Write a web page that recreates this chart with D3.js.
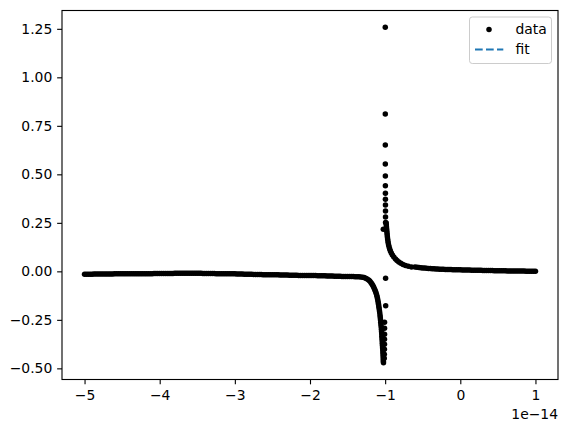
<!DOCTYPE html>
<html>
<head>
<meta charset="utf-8">
<script src="https://cdn.jsdelivr.net/npm/d3@7"></script>
<style>
body { margin: 0; background: #fff; }
text { font-family: "DejaVu Sans", sans-serif; }
</style>
</head>
<body>
<div id="chart-area"></div>
<script>
// x values are in units of 1e-14
var flatLeftX = [
  -5.000,-4.975,-4.950,-4.925,-4.900,-4.875,-4.850,-4.825,-4.800,-4.775,
  -4.750,-4.725,-4.700,-4.675,-4.650,-4.625,-4.600,-4.575,-4.550,-4.525,
  -4.500,-4.475,-4.450,-4.425,-4.400,-4.375,-4.350,-4.325,-4.300,-4.275,
  -4.250,-4.225,-4.200,-4.175,-4.150,-4.125,-4.100,-4.075,-4.050,-4.025,
  -4.000,-3.975,-3.950,-3.925,-3.900,-3.875,-3.850,-3.825,-3.800,-3.775,
  -3.750,-3.725,-3.700,-3.675,-3.650,-3.625,-3.600,-3.575,-3.550,-3.525,
  -3.500,-3.475,-3.450,-3.425,-3.400,-3.375,-3.350,-3.325,-3.300,-3.275,
  -3.250,-3.225,-3.200,-3.175,-3.150,-3.125,-3.100,-3.075,-3.050,-3.025,
  -3.000,-2.975,-2.950,-2.925,-2.900,-2.875,-2.850,-2.825,-2.800,-2.775,
  -2.750,-2.725,-2.700,-2.675,-2.650,-2.625,-2.600,-2.575,-2.550,-2.525,
  -2.500,-2.475,-2.450,-2.425,-2.400,-2.375,-2.350,-2.325,-2.300,-2.275,
  -2.250,-2.225,-2.200,-2.175,-2.150,-2.125,-2.100,-2.075,-2.050,-2.025,
  -2.000,-1.975,-1.950,-1.925,-1.900,-1.875,-1.850,-1.825,-1.800,-1.775,
  -1.750,-1.725,-1.700,-1.675,-1.650,-1.625,-1.600,-1.575,-1.550,-1.525,
  -1.500,-1.475,-1.450,-1.425,-1.400,-1.375,-1.350,-1.325
];
var flatLeftY = [
  -0.015,-0.015,-0.015,-0.015,-0.015,-0.014,-0.014,-0.014,-0.014,-0.014,
  -0.014,-0.014,-0.014,-0.014,-0.014,-0.014,-0.013,-0.013,-0.013,-0.013,
  -0.013,-0.013,-0.013,-0.013,-0.013,-0.013,-0.013,-0.012,-0.012,-0.012,
  -0.012,-0.012,-0.012,-0.012,-0.012,-0.012,-0.012,-0.011,-0.011,-0.011,
  -0.011,-0.011,-0.011,-0.011,-0.011,-0.011,-0.011,-0.011,-0.010,-0.010,
  -0.010,-0.010,-0.010,-0.010,-0.010,-0.010,-0.010,-0.010,-0.010,-0.010,
  -0.010,-0.010,-0.010,-0.011,-0.011,-0.011,-0.011,-0.011,-0.011,-0.011,
  -0.012,-0.012,-0.012,-0.012,-0.012,-0.012,-0.013,-0.013,-0.013,-0.013,
  -0.013,-0.014,-0.014,-0.014,-0.014,-0.015,-0.015,-0.015,-0.015,-0.015,
  -0.016,-0.016,-0.016,-0.016,-0.016,-0.017,-0.017,-0.017,-0.017,-0.018,
  -0.018,-0.018,-0.018,-0.018,-0.019,-0.019,-0.019,-0.019,-0.019,-0.020,
  -0.020,-0.020,-0.020,-0.020,-0.021,-0.021,-0.021,-0.021,-0.021,-0.022,
  -0.022,-0.022,-0.022,-0.022,-0.023,-0.023,-0.023,-0.023,-0.023,-0.024,
  -0.024,-0.024,-0.024,-0.025,-0.025,-0.025,-0.025,-0.026,-0.026,-0.026,
  -0.026,-0.027,-0.027,-0.027,-0.028,-0.028,-0.028,-0.029
];

var lowerKneeX = [
  -1.300,-1.280,-1.260,-1.240,-1.220,-1.205,-1.190,-1.178,-1.166,-1.155,
  -1.145,-1.136,-1.128,-1.120,-1.113,-1.107,-1.102,-1.097,-1.092,-1.088,
  -1.084,-1.080,-1.076,-1.072,-1.068,-1.065,-1.062,-1.059,-1.056,-1.053,
  -1.050,-1.048,-1.046,-1.044,-1.042,-1.040,-1.038,-1.036,-1.034,-1.032,
  -1.030,-1.028,-1.027,-1.025,-1.024,-1.022
];
var lowerKneeY = [
  -0.030,-0.032,-0.035,-0.039,-0.044,-0.050,-0.057,-0.064,-0.072,-0.080,
  -0.088,-0.096,-0.104,-0.113,-0.122,-0.131,-0.140,-0.150,-0.160,-0.170,
  -0.181,-0.192,-0.203,-0.214,-0.226,-0.238,-0.250,-0.262,-0.274,-0.286,
  -0.298,-0.310,-0.322,-0.334,-0.346,-0.358,-0.370,-0.382,-0.394,-0.406,
  -0.418,-0.430,-0.442,-0.453,-0.463,-0.471
];

var lowerColX = [-0.994,-0.993,-1.008,-1.008,-1.008,-1.009,-1.009,-1.010,-1.011,-1.012];
var lowerColY = [-0.035,-0.177,-0.262,-0.293,-0.324,-0.350,-0.376,-0.401,-0.427,-0.448];

var upperColX = [-0.9985,-0.9982,-0.9979,-0.9976,-0.9973,-0.9970,-0.9966,-0.9962,-0.9958,-0.9954,-0.9950,-0.9945,-1.0245];
var upperColY = [1.258,0.811,0.651,0.553,0.492,0.441,0.403,0.372,0.342,0.311,0.280,0.252,0.217];

var upperKneeX = [
  -0.9859,-0.9846,-0.9826,-0.9806,-0.9780,-0.9753,-0.9726,-0.9700,-0.9667,-0.9633,
  -0.9593,-0.9540,-0.9474,-0.9394,-0.9301,-0.9181,-0.9035,-0.8848,-0.8622,-0.8422,
  -0.8183,-0.7917,-0.7624,-0.7291,-0.6919,-0.6493,-0.6027
];
var upperKneeY = [
  0.2495,0.2392,0.2288,0.2185,0.2082,0.1979,0.1875,0.1772,0.1668,0.1565,
  0.1462,0.1358,0.1255,0.1152,0.1048,0.0945,0.0842,0.0739,0.0635,0.0558,
  0.0480,0.0413,0.0356,0.0305,0.0263,0.0227
];
upperKneeY.push(0.0227);

var flatRightX = [
  -0.575,-0.550,-0.525,-0.500,-0.475,-0.450,-0.425,-0.400,-0.375,-0.350,
  -0.325,-0.300,-0.275,-0.250,-0.225,-0.200,-0.175,-0.150,-0.125,-0.100,
  -0.075,-0.050,-0.025, 0.000, 0.025, 0.050, 0.075, 0.100, 0.125, 0.150,
   0.175, 0.200, 0.225, 0.250, 0.275, 0.300, 0.325, 0.350, 0.375, 0.400,
   0.425, 0.450, 0.475, 0.500, 0.525, 0.550, 0.575, 0.600, 0.625, 0.650,
   0.675, 0.700, 0.725, 0.750, 0.775, 0.800, 0.825, 0.850, 0.875, 0.900,
   0.925, 0.950, 0.975, 1.000
];
var flatRightY = [
  0.0210,0.0198,0.0187,0.0177,0.0168,0.0159,0.0151,0.0143,0.0136,0.0129,
  0.0123,0.0117,0.0112,0.0107,0.0103,0.0099,0.0095,0.0092,0.0089,0.0086,
  0.0083,0.0080,0.0078,0.0076,0.0073,0.0071,0.0068,0.0066,0.0064,0.0062,
  0.0060,0.0058,0.0056,0.0053,0.0051,0.0048,0.0046,0.0044,0.0042,0.0040,
  0.0038,0.0036,0.0034,0.0032,0.0030,0.0028,0.0027,0.0025,0.0023,0.0022,
  0.0020,0.0019,0.0018,0.0016,0.0015,0.0014,0.0013,0.0012,0.0011,0.0010,
  0.0009,0.0008,0.0007,0.0006
];

var xTicks = [-5, -4, -3, -2, -1, 0, 1];
var yTicks = [-0.5, -0.25, 0, 0.25, 0.5, 0.75, 1.0, 1.25];
var xOffsetLabel = "1e\u221214";
var legendLabels = ["data", "fit"];

var width = 567, height = 431;
var plot = {left: 62, right: 558, top: 10.5, bottom: 379.5};
var fontSize = "13.9px";

var points = [];
function addSegment(xs, ys) {
  xs.forEach((x, i) => { points.push({x: x, y: ys[i]}); });
}
addSegment(flatLeftX, flatLeftY);
addSegment(lowerKneeX, lowerKneeY);
addSegment(lowerColX, lowerColY);
addSegment(upperColX, upperColY);
addSegment(upperKneeX, upperKneeY);
addSegment(flatRightX, flatRightY);

var svg = d3.select("#chart-area")
  .append("svg")
  .attr("width", width)
  .attr("height", height);

// matplotlib style 5% margins
var xExt = d3.extent(points, d => d.x);
var yExt = d3.extent(points, d => d.y);
var xPad = (xExt[1] - xExt[0]) * 0.05;
var yPad = (yExt[1] - yExt[0]) * 0.05;

var x = d3.scaleLinear()
  .domain([xExt[0] - xPad, xExt[1] + xPad])
  .range([plot.left, plot.right]);
var y = d3.scaleLinear()
  .domain([yExt[0] - yPad, yExt[1] + yPad])
  .range([plot.bottom, plot.top]);

var xAxisGroup = svg.append("g")
  .attr("transform", "translate(0," + plot.bottom + ")")
  .call(d3.axisBottom(x).tickValues(xTicks).tickSize(4.86).tickPadding(5.8).tickFormat(d3.format("d")));
var yAxisGroup = svg.append("g")
  .attr("transform", "translate(" + plot.left + ",0)")
  .call(d3.axisLeft(y).tickValues(yTicks).tickSize(4.86).tickPadding(4.86).tickFormat(d3.format(".2f")));

[xAxisGroup, yAxisGroup].forEach(g => {
  g.select(".domain").remove();
  g.attr("font-family", "DejaVu Sans").attr("font-size", fontSize);
  g.selectAll(".tick line").attr("stroke", "black").attr("stroke-width", 1.11);
  g.selectAll(".tick text").attr("fill", "black");
});

svg.append("text")
  .attr("x", plot.right)
  .attr("y", 419)
  .attr("text-anchor", "end")
  .attr("font-size", fontSize)
  .text(xOffsetLabel);

// data points
svg.append("g")
  .selectAll("circle")
  .data(points)
  .join("circle")
  .attr("cx", d => x(d.x))
  .attr("cy", d => y(d.y))
  .attr("r", 2.75)
  .attr("fill", "black");

// frame
svg.append("rect")
  .attr("x", plot.left)
  .attr("y", plot.top)
  .attr("width", plot.right - plot.left)
  .attr("height", plot.bottom - plot.top)
  .attr("fill", "none")
  .attr("stroke", "black")
  .attr("stroke-width", 1.11);

// legend
var legend = svg.append("g");
legend.append("rect")
  .attr("x", 469.5)
  .attr("y", 17)
  .attr("width", 82)
  .attr("height", 46.5)
  .attr("rx", 2.8)
  .attr("fill", "white")
  .attr("fill-opacity", 0.8)
  .attr("stroke", "#cccccc")
  .attr("stroke-width", 1);
legend.append("circle")
  .attr("cx", 489)
  .attr("cy", 29.5)
  .attr("r", 2.75)
  .attr("fill", "black");
legend.append("line")
  .attr("x1", 475).attr("x2", 503.3)
  .attr("y1", 49.5).attr("y2", 49.5)
  .attr("stroke", "#1f77b4")
  .attr("stroke-width", 2.08)
  .attr("stroke-dasharray", "7.7,3.3");
legend.selectAll("text.lbl")
  .data(legendLabels)
  .join("text")
  .attr("class", "lbl")
  .attr("x", 515.5)
  .attr("y", (d, i) => 34.3 + i * 19.5)
  .attr("font-size", fontSize)
  .text(d => d);
</script>
</body>
</html>
